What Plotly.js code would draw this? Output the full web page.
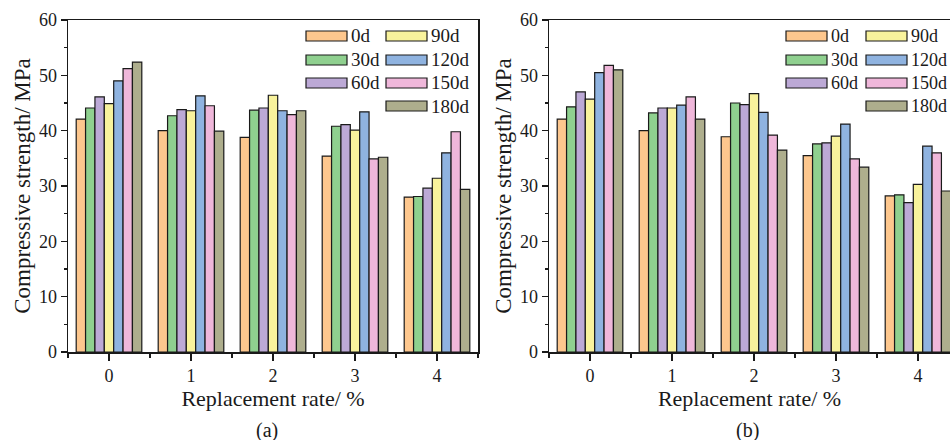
<!DOCTYPE html>
<html>
<head>
<meta charset="utf-8">
<script src="https://cdn.plot.ly/plotly-3.0.1.min.js"></script>
<style>html,body{margin:0;padding:0;background:#fff;}#chart{width:950px;height:440px;}</style>
</head>
<body>
<div id="chart"></div>
<script>
// ---- data ----
const categories = [0, 1, 2, 3, 4];
const tickLabels = ['0', '1', '2', '3', '4'];
const seriesNames = ['0d', '30d', '60d', '90d', '120d', '150d', '180d'];

// panel (a)
const a0d   = [42.1, 40.0, 38.8, 35.4, 28.0];
const a30d  = [44.1, 42.7, 43.7, 40.8, 28.1];
const a60d  = [46.1, 43.8, 44.1, 41.1, 29.6];
const a90d  = [44.9, 43.6, 46.4, 40.1, 31.4];
const a120d = [49.0, 46.3, 43.6, 43.4, 36.0];
const a150d = [51.2, 44.5, 42.9, 34.9, 39.8];
const a180d = [52.4, 39.9, 43.6, 35.2, 29.4];

// panel (b)
const b0d   = [42.1, 40.0, 38.9, 35.5, 28.2];
const b30d  = [44.3, 43.2, 45.0, 37.6, 28.4];
const b60d  = [47.0, 44.1, 44.7, 37.8, 27.0];
const b90d  = [45.7, 44.1, 46.7, 39.0, 30.3];
const b120d = [50.5, 44.6, 43.3, 41.2, 37.2];
const b150d = [51.8, 46.1, 39.2, 34.9, 36.0];
const b180d = [51.0, 42.1, 36.5, 33.4, 29.1];

const panelA = [a0d, a30d, a60d, a90d, a120d, a150d, a180d];
const panelB = [b0d, b30d, b60d, b90d, b120d, b150d, b180d];

// ---- styles ----
const colors = ['#FDC78E', '#8FD08F', '#BCA9D6', '#F8F29C', '#8FB3E0', '#EFB7DA', '#AEAE8D'];
const W = 950, H = 440;
const px = x => x / W;
const py = y => 1 - y / H;
const FONT = 'Liberation Serif, Times New Roman, serif';
const INK = '#1a1a1a';

const traces = [];
seriesNames.forEach((name, i) => {
  traces.push({
    type: 'bar', x: categories, y: panelA[i], name: name,
    xaxis: 'x', yaxis: 'y', showlegend: false,
    marker: {color: colors[i], line: {color: INK, width: 1.2}}
  });
  traces.push({
    type: 'bar', x: categories, y: panelB[i], name: name,
    xaxis: 'x2', yaxis: 'y2', showlegend: false,
    marker: {color: colors[i], line: {color: INK, width: 1.2}}
  });
});

function xax(domain, range, anchor) {
  return {
    domain: domain, range: range, anchor: anchor,
    tickmode: 'array', tickvals: categories, ticktext: tickLabels,
    ticks: 'outside', ticklen: 7, tickwidth: 1.3, tickcolor: INK,
    minor: {tick0: 0.5, dtick: 1, ticks: 'outside', ticklen: 4, tickwidth: 1.2, tickcolor: INK},
    showline: true, linecolor: INK, linewidth: 1.5, mirror: true,
    showgrid: false, zeroline: false,
    tickfont: {family: FONT, size: 18, color: INK},
    title: {text: 'Replacement rate/ %', font: {family: FONT, size: 22, color: INK}, standoff: 0}
  };
}
function yax(mirror, anchor) {
  return {
    domain: [py(352), py(20)], range: [0, 60], anchor: anchor,
    tickmode: 'linear', tick0: 0, dtick: 10,
    ticks: 'outside', ticklen: 6, tickwidth: 1.3, tickcolor: INK,
    minor: {dtick: 5, ticks: 'outside', ticklen: 3, tickwidth: 1.2, tickcolor: INK},
    showline: true, linecolor: INK, linewidth: 1.5, mirror: mirror,
    showgrid: false, zeroline: false,
    tickfont: {family: FONT, size: 18, color: INK},
    title: {text: 'Compressive strength/ MPa', font: {family: FONT, size: 23, color: INK}, standoff: 2}
  };
}

const unit = 82;
const layout = {
  width: W, height: H,
  margin: {l: 0, r: 0, t: 0, b: 0},
  paper_bgcolor: '#fff', plot_bgcolor: '#fff',
  barmode: 'group', bargap: 0.2, bargroupgap: 0,
  showlegend: false,
  xaxis: xax([px(68), px(478)], [-0.5, 4.5], 'y'),
  yaxis: yax(true, 'x'),
  xaxis2: xax([px(549), 1], [-0.5, -0.5 + (W - 549) / unit], 'y2'),
  yaxis2: yax(false, 'x2'),
  shapes: [], annotations: []
};

// custom legends (one per panel)
function addLegend(axisLeft, fontSize) {
  const col0 = axisLeft + 238, col1 = axisLeft + 318;
  const rows = [36, 60, 83, 106];
  seriesNames.forEach((name, i) => {
    const c = i < 3 ? col0 : col1;
    const r = i < 3 ? rows[i] : rows[i - 3];
    layout.shapes.push({
      type: 'rect', xref: 'paper', yref: 'paper',
      x0: px(c), x1: px(c + 41), y0: py(r + 5), y1: py(r - 5),
      fillcolor: colors[i], line: {color: INK, width: 1.2}
    });
    layout.annotations.push({
      xref: 'paper', yref: 'paper', x: px(c + 43), y: py(r),
      xanchor: 'left', yanchor: 'middle', showarrow: false,
      text: name, font: {family: FONT, size: fontSize, color: INK}
    });
  });
}
addLegend(68, 19);
addLegend(548, 18);

layout.annotations.push({
  xref: 'paper', yref: 'paper', x: px(267), y: py(430), xanchor: 'center', yanchor: 'middle',
  showarrow: false, text: '(a)', font: {family: FONT, size: 20, color: INK}
});
layout.annotations.push({
  xref: 'paper', yref: 'paper', x: px(747), y: py(430), xanchor: 'center', yanchor: 'middle',
  showarrow: false, text: '(b)', font: {family: FONT, size: 20, color: INK}
});

Plotly.newPlot('chart', traces, layout, {displayModeBar: false, staticPlot: true});
</script>
</body>
</html>
